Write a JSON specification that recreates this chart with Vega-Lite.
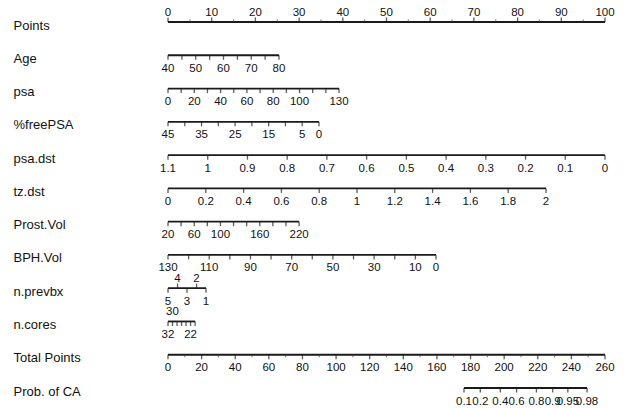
{
  "$schema": "https://vega.github.io/schema/vega-lite/v6.json",
  "autosize": "none",
  "width": 437,
  "height": 366,
  "padding": {"left": 168, "top": 22, "right": 22, "bottom": 20},
  "background": "white",
  "config": {"view": {"stroke": null}, "text": {"font": "Liberation Sans", "fontSize": 11.5, "color": "#111"}},
  "datasets": {
    "main": [
      {"r":"Points","p":0,"l":"0","lp":"a","td":"u","tk":"M"},
      {"r":"Points","p":5,"l":"","lp":"","td":"u","tk":"m"},
      {"r":"Points","p":10,"l":"10","lp":"a","td":"u","tk":"M"},
      {"r":"Points","p":15,"l":"","lp":"","td":"u","tk":"m"},
      {"r":"Points","p":20,"l":"20","lp":"a","td":"u","tk":"M"},
      {"r":"Points","p":25,"l":"","lp":"","td":"u","tk":"m"},
      {"r":"Points","p":30,"l":"30","lp":"a","td":"u","tk":"M"},
      {"r":"Points","p":35,"l":"","lp":"","td":"u","tk":"m"},
      {"r":"Points","p":40,"l":"40","lp":"a","td":"u","tk":"M"},
      {"r":"Points","p":45,"l":"","lp":"","td":"u","tk":"m"},
      {"r":"Points","p":50,"l":"50","lp":"a","td":"u","tk":"M"},
      {"r":"Points","p":55,"l":"","lp":"","td":"u","tk":"m"},
      {"r":"Points","p":60,"l":"60","lp":"a","td":"u","tk":"M"},
      {"r":"Points","p":65,"l":"","lp":"","td":"u","tk":"m"},
      {"r":"Points","p":70,"l":"70","lp":"a","td":"u","tk":"M"},
      {"r":"Points","p":75,"l":"","lp":"","td":"u","tk":"m"},
      {"r":"Points","p":80,"l":"80","lp":"a","td":"u","tk":"M"},
      {"r":"Points","p":85,"l":"","lp":"","td":"u","tk":"m"},
      {"r":"Points","p":90,"l":"90","lp":"a","td":"u","tk":"M"},
      {"r":"Points","p":95,"l":"","lp":"","td":"u","tk":"m"},
      {"r":"Points","p":100,"l":"100","lp":"a","td":"u","tk":"M"},

      {"r":"Age","p":0,"l":"40","lp":"b","td":"d","tk":"M"},
      {"r":"Age","p":3.18,"l":"","lp":"","td":"d","tk":"M"},
      {"r":"Age","p":6.35,"l":"50","lp":"b","td":"d","tk":"M"},
      {"r":"Age","p":9.53,"l":"","lp":"","td":"d","tk":"M"},
      {"r":"Age","p":12.7,"l":"60","lp":"b","td":"d","tk":"M"},
      {"r":"Age","p":15.88,"l":"","lp":"","td":"d","tk":"M"},
      {"r":"Age","p":19.05,"l":"70","lp":"b","td":"d","tk":"M"},
      {"r":"Age","p":22.23,"l":"","lp":"","td":"d","tk":"M"},
      {"r":"Age","p":25.4,"l":"80","lp":"b","td":"d","tk":"M"},

      {"r":"psa","p":0,"l":"0","lp":"b","td":"d","tk":"M"},
      {"r":"psa","p":3.01,"l":"","lp":"","td":"d","tk":"M"},
      {"r":"psa","p":6.02,"l":"20","lp":"b","td":"d","tk":"M"},
      {"r":"psa","p":9.03,"l":"","lp":"","td":"d","tk":"M"},
      {"r":"psa","p":12.04,"l":"40","lp":"b","td":"d","tk":"M"},
      {"r":"psa","p":15.05,"l":"","lp":"","td":"d","tk":"M"},
      {"r":"psa","p":18.06,"l":"60","lp":"b","td":"d","tk":"M"},
      {"r":"psa","p":21.07,"l":"","lp":"","td":"d","tk":"M"},
      {"r":"psa","p":24.08,"l":"80","lp":"b","td":"d","tk":"M"},
      {"r":"psa","p":27.09,"l":"","lp":"","td":"d","tk":"M"},
      {"r":"psa","p":30.1,"l":"100","lp":"b","td":"d","tk":"M"},
      {"r":"psa","p":33.11,"l":"","lp":"","td":"d","tk":"M"},
      {"r":"psa","p":36.12,"l":"","lp":"","td":"d","tk":"M"},
      {"r":"psa","p":39.13,"l":"130","lp":"b","td":"d","tk":"M"},

      {"r":"%freePSA","p":0,"l":"45","lp":"b","td":"d","tk":"M"},
      {"r":"%freePSA","p":3.84,"l":"","lp":"","td":"d","tk":"M"},
      {"r":"%freePSA","p":7.68,"l":"35","lp":"b","td":"d","tk":"M"},
      {"r":"%freePSA","p":11.52,"l":"","lp":"","td":"d","tk":"M"},
      {"r":"%freePSA","p":15.36,"l":"25","lp":"b","td":"d","tk":"M"},
      {"r":"%freePSA","p":19.2,"l":"","lp":"","td":"d","tk":"M"},
      {"r":"%freePSA","p":23.03,"l":"15","lp":"b","td":"d","tk":"M"},
      {"r":"%freePSA","p":26.87,"l":"","lp":"","td":"d","tk":"M"},
      {"r":"%freePSA","p":30.71,"l":"5","lp":"b","td":"d","tk":"M"},
      {"r":"%freePSA","p":34.55,"l":"0","lp":"b","td":"d","tk":"M"},

      {"r":"psa.dst","p":0,"l":"1.1","lp":"b","td":"d","tk":"M"},
      {"r":"psa.dst","p":9.09,"l":"1","lp":"b","td":"d","tk":"M"},
      {"r":"psa.dst","p":18.18,"l":"0.9","lp":"b","td":"d","tk":"M"},
      {"r":"psa.dst","p":27.27,"l":"0.8","lp":"b","td":"d","tk":"M"},
      {"r":"psa.dst","p":36.36,"l":"0.7","lp":"b","td":"d","tk":"M"},
      {"r":"psa.dst","p":45.45,"l":"0.6","lp":"b","td":"d","tk":"M"},
      {"r":"psa.dst","p":54.55,"l":"0.5","lp":"b","td":"d","tk":"M"},
      {"r":"psa.dst","p":63.64,"l":"0.4","lp":"b","td":"d","tk":"M"},
      {"r":"psa.dst","p":72.73,"l":"0.3","lp":"b","td":"d","tk":"M"},
      {"r":"psa.dst","p":81.82,"l":"0.2","lp":"b","td":"d","tk":"M"},
      {"r":"psa.dst","p":90.91,"l":"0.1","lp":"b","td":"d","tk":"M"},
      {"r":"psa.dst","p":100,"l":"0","lp":"b","td":"d","tk":"M"},

      {"r":"tz.dst","p":0,"l":"0","lp":"b","td":"d","tk":"M"},
      {"r":"tz.dst","p":8.65,"l":"0.2","lp":"b","td":"d","tk":"M"},
      {"r":"tz.dst","p":17.3,"l":"0.4","lp":"b","td":"d","tk":"M"},
      {"r":"tz.dst","p":25.95,"l":"0.6","lp":"b","td":"d","tk":"M"},
      {"r":"tz.dst","p":34.6,"l":"0.8","lp":"b","td":"d","tk":"M"},
      {"r":"tz.dst","p":43.25,"l":"1","lp":"b","td":"d","tk":"M"},
      {"r":"tz.dst","p":51.9,"l":"1.2","lp":"b","td":"d","tk":"M"},
      {"r":"tz.dst","p":60.55,"l":"1.4","lp":"b","td":"d","tk":"M"},
      {"r":"tz.dst","p":69.2,"l":"1.6","lp":"b","td":"d","tk":"M"},
      {"r":"tz.dst","p":77.85,"l":"1.8","lp":"b","td":"d","tk":"M"},
      {"r":"tz.dst","p":86.5,"l":"2","lp":"b","td":"d","tk":"M"},

      {"r":"Prost.Vol","p":0,"l":"20","lp":"b","td":"d","tk":"M"},
      {"r":"Prost.Vol","p":3,"l":"","lp":"","td":"d","tk":"M"},
      {"r":"Prost.Vol","p":6,"l":"60","lp":"b","td":"d","tk":"M"},
      {"r":"Prost.Vol","p":9,"l":"","lp":"","td":"d","tk":"M"},
      {"r":"Prost.Vol","p":12,"l":"100","lp":"b","td":"d","tk":"M"},
      {"r":"Prost.Vol","p":15,"l":"","lp":"","td":"d","tk":"M"},
      {"r":"Prost.Vol","p":18,"l":"","lp":"","td":"d","tk":"M"},
      {"r":"Prost.Vol","p":21,"l":"160","lp":"b","td":"d","tk":"M"},
      {"r":"Prost.Vol","p":24,"l":"","lp":"","td":"d","tk":"M"},
      {"r":"Prost.Vol","p":27,"l":"","lp":"","td":"d","tk":"M"},
      {"r":"Prost.Vol","p":30,"l":"220","lp":"b","td":"d","tk":"M"},

      {"r":"BPH.Vol","p":0,"l":"130","lp":"b","td":"d","tk":"M"},
      {"r":"BPH.Vol","p":4.72,"l":"","lp":"","td":"d","tk":"M"},
      {"r":"BPH.Vol","p":9.43,"l":"110","lp":"b","td":"d","tk":"M"},
      {"r":"BPH.Vol","p":14.15,"l":"","lp":"","td":"d","tk":"M"},
      {"r":"BPH.Vol","p":18.87,"l":"90","lp":"b","td":"d","tk":"M"},
      {"r":"BPH.Vol","p":23.58,"l":"","lp":"","td":"d","tk":"M"},
      {"r":"BPH.Vol","p":28.3,"l":"70","lp":"b","td":"d","tk":"M"},
      {"r":"BPH.Vol","p":33.02,"l":"","lp":"","td":"d","tk":"M"},
      {"r":"BPH.Vol","p":37.74,"l":"50","lp":"b","td":"d","tk":"M"},
      {"r":"BPH.Vol","p":42.45,"l":"","lp":"","td":"d","tk":"M"},
      {"r":"BPH.Vol","p":47.17,"l":"30","lp":"b","td":"d","tk":"M"},
      {"r":"BPH.Vol","p":51.89,"l":"","lp":"","td":"d","tk":"M"},
      {"r":"BPH.Vol","p":56.6,"l":"10","lp":"b","td":"d","tk":"M"},
      {"r":"BPH.Vol","p":61.32,"l":"0","lp":"b","td":"d","tk":"M"},

      {"r":"n.prevbx","p":0,"l":"5","lp":"b","td":"d","tk":"M"},
      {"r":"n.prevbx","p":2.18,"l":"4","lp":"a","td":"u","tk":"M"},
      {"r":"n.prevbx","p":4.35,"l":"3","lp":"b","td":"d","tk":"M"},
      {"r":"n.prevbx","p":6.53,"l":"2","lp":"a","td":"u","tk":"M"},
      {"r":"n.prevbx","p":8.7,"l":"1","lp":"b","td":"d","tk":"M"},

      {"r":"n.cores","p":0,"l":"32","lp":"b","td":"d","tk":"M"},
      {"r":"n.cores","p":1.03,"l":"30","lp":"a","td":"d","tk":"M"},
      {"r":"n.cores","p":2.07,"l":"","lp":"","td":"d","tk":"M"},
      {"r":"n.cores","p":3.1,"l":"","lp":"","td":"d","tk":"M"},
      {"r":"n.cores","p":4.13,"l":"","lp":"","td":"d","tk":"M"},
      {"r":"n.cores","p":5.17,"l":"22","lp":"b","td":"d","tk":"M"},
      {"r":"n.cores","p":6.2,"l":"","lp":"","td":"d","tk":"M"}
    ],
    "tot": [
      {"r":"Total Points","t":0,"l":"0","tk":"M"},
      {"r":"Total Points","t":10,"l":"","tk":"m"},
      {"r":"Total Points","t":20,"l":"20","tk":"M"},
      {"r":"Total Points","t":30,"l":"","tk":"m"},
      {"r":"Total Points","t":40,"l":"40","tk":"M"},
      {"r":"Total Points","t":50,"l":"","tk":"m"},
      {"r":"Total Points","t":60,"l":"60","tk":"M"},
      {"r":"Total Points","t":70,"l":"","tk":"m"},
      {"r":"Total Points","t":80,"l":"80","tk":"M"},
      {"r":"Total Points","t":90,"l":"","tk":"m"},
      {"r":"Total Points","t":100,"l":"100","tk":"M"},
      {"r":"Total Points","t":110,"l":"","tk":"m"},
      {"r":"Total Points","t":120,"l":"120","tk":"M"},
      {"r":"Total Points","t":130,"l":"","tk":"m"},
      {"r":"Total Points","t":140,"l":"140","tk":"M"},
      {"r":"Total Points","t":150,"l":"","tk":"m"},
      {"r":"Total Points","t":160,"l":"160","tk":"M"},
      {"r":"Total Points","t":170,"l":"","tk":"m"},
      {"r":"Total Points","t":180,"l":"180","tk":"M"},
      {"r":"Total Points","t":190,"l":"","tk":"m"},
      {"r":"Total Points","t":200,"l":"200","tk":"M"},
      {"r":"Total Points","t":210,"l":"","tk":"m"},
      {"r":"Total Points","t":220,"l":"220","tk":"M"},
      {"r":"Total Points","t":230,"l":"","tk":"m"},
      {"r":"Total Points","t":240,"l":"240","tk":"M"},
      {"r":"Total Points","t":250,"l":"","tk":"m"},
      {"r":"Total Points","t":260,"l":"260","tk":"M"},
      {"r":"Prob. of CA","t":176.1,"l":"0.1","tk":"M"},
      {"r":"Prob. of CA","t":185.8,"l":"0.2","tk":"M"},
      {"r":"Prob. of CA","t":197.7,"l":"0.4","tk":"M"},
      {"r":"Prob. of CA","t":207.4,"l":"0.6","tk":"M"},
      {"r":"Prob. of CA","t":219.2,"l":"0.8","tk":"M"},
      {"r":"Prob. of CA","t":228.9,"l":"0.9","tk":"M"},
      {"r":"Prob. of CA","t":237.9,"l":"0.95","tk":"M"},
      {"r":"Prob. of CA","t":249.3,"l":"0.98","tk":"M"}
    ]
  },
  "encoding": {
    "y": {
      "field": "r", "type": "nominal",
      "scale": {"type": "point", "padding": 0, "domain": ["Points","Age","psa","%freePSA","psa.dst","tz.dst","Prost.Vol","BPH.Vol","n.prevbx","n.cores","Total Points","Prob. of CA"]},
      "axis": {"title": null, "domain": false, "ticks": false, "labelAlign": "left", "labelPadding": 155, "labelFont": "Liberation Sans", "labelFontSize": 13, "labelColor": "#111", "labelOffset": 3, "labelLimit": 200}
    }
  },
  "layer": [
    {
      "data": {"name": "main"},
      "layer": [
        {
          "mark": {"type": "rule", "color": "#1a1a1a", "strokeWidth": 1.8},
          "encoding": {
            "x": {"aggregate": "min", "field": "p", "type": "quantitative", "scale": {"domain": [0, 100]}, "axis": null},
            "x2": {"aggregate": "max", "field": "p"}
          }
        },
        {
          "transform": [{"filter": "datum.td == 'd' && datum.tk == 'M'"}],
          "mark": {"type": "tick", "orient": "vertical", "size": 4.5, "thickness": 1.3, "yOffset": 2.3, "color": "#1a1a1a"},
          "encoding": {"x": {"field": "p", "type": "quantitative", "scale": {"domain": [0, 100]}, "axis": null}}
        },
        {
          "transform": [{"filter": "datum.td == 'u' && datum.tk == 'M'"}],
          "mark": {"type": "tick", "orient": "vertical", "size": 4.5, "thickness": 1.3, "yOffset": -2.3, "color": "#1a1a1a"},
          "encoding": {"x": {"field": "p", "type": "quantitative", "scale": {"domain": [0, 100]}, "axis": null}}
        },
        {
          "transform": [{"filter": "datum.td == 'u' && datum.tk == 'm'"}],
          "mark": {"type": "tick", "orient": "vertical", "size": 2.5, "thickness": 1.1, "yOffset": -1.3, "color": "#444"},
          "encoding": {"x": {"field": "p", "type": "quantitative", "scale": {"domain": [0, 100]}, "axis": null}}
        },
        {
          "transform": [{"filter": "datum.lp == 'b'"}],
          "mark": {"type": "text", "baseline": "middle", "dy": 13.5},
          "encoding": {
            "x": {"field": "p", "type": "quantitative", "scale": {"domain": [0, 100]}, "axis": null},
            "text": {"field": "l"}
          }
        },
        {
          "transform": [{"filter": "datum.lp == 'a'"}],
          "mark": {"type": "text", "baseline": "middle", "dy": -9},
          "encoding": {
            "x": {"field": "p", "type": "quantitative", "scale": {"domain": [0, 100]}, "axis": null},
            "text": {"field": "l"}
          }
        }
      ]
    },
    {
      "data": {"name": "tot"},
      "layer": [
        {
          "mark": {"type": "rule", "color": "#1a1a1a", "strokeWidth": 1.8},
          "encoding": {
            "x": {"aggregate": "min", "field": "t", "type": "quantitative", "scale": {"domain": [0, 260]}, "axis": null},
            "x2": {"aggregate": "max", "field": "t"}
          }
        },
        {
          "transform": [{"filter": "datum.tk == 'M'"}],
          "mark": {"type": "tick", "orient": "vertical", "size": 4.5, "thickness": 1.3, "yOffset": 2.3, "color": "#1a1a1a"},
          "encoding": {"x": {"field": "t", "type": "quantitative", "scale": {"domain": [0, 260]}, "axis": null}}
        },
        {
          "transform": [{"filter": "datum.tk == 'm'"}],
          "mark": {"type": "tick", "orient": "vertical", "size": 2.5, "thickness": 1.1, "yOffset": 1.3, "color": "#444"},
          "encoding": {"x": {"field": "t", "type": "quantitative", "scale": {"domain": [0, 260]}, "axis": null}}
        },
        {
          "transform": [{"filter": "datum.l != ''"}],
          "mark": {"type": "text", "baseline": "middle", "dy": 13.5},
          "encoding": {
            "x": {"field": "t", "type": "quantitative", "scale": {"domain": [0, 260]}, "axis": null},
            "text": {"field": "l"}
          }
        }
      ]
    }
  ],
  "resolve": {"scale": {"x": "independent"}}
}
